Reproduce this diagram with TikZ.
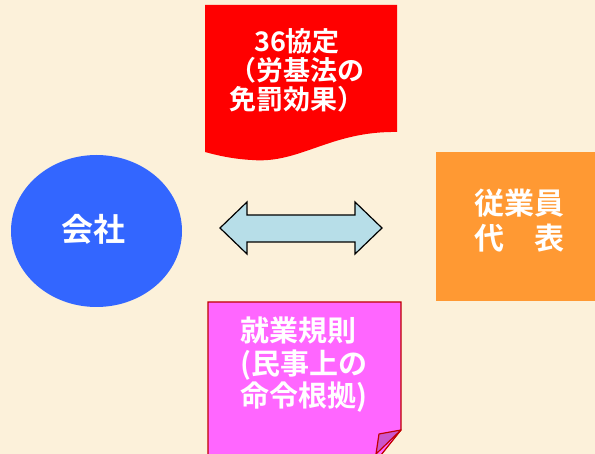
\documentclass[tikz,border=0pt]{standalone}
\usepackage{fontspec}
\newfontfamily\jp{Noto Sans CJK JP}[BoldFont={Noto Sans CJK JP Bold}]
\definecolor{bgc}{HTML}{FCF1DA}
\definecolor{redc}{HTML}{FF0000}
\definecolor{pinkc}{HTML}{FF66FF}
\definecolor{pinkb}{HTML}{C00000}
\definecolor{foldc}{HTML}{CC55CC}
\definecolor{bluec}{HTML}{3366FF}
\definecolor{orangec}{HTML}{FF9933}
\definecolor{arrowc}{HTML}{B7DEE8}
\tikzset{
  lbl/.style={text=white, font=\jp\bfseries, inner sep=0pt},
}
\begin{document}
\begin{tikzpicture}[x=1pt,y=-1pt]
\clip (0,0) rectangle (595,454);
\fill[bgc] (0,0) rectangle (595,454);
% red document
\fill[redc] (205,5) -- (397,5) -- (397,132)
  .. controls (330,131) and (300,164) .. (252,160)
  .. controls (232,159) and (216,155) .. (205,152) -- cycle;
\node[lbl, align=center, font=\jp\bfseries\fontsize{27}{29}\selectfont] (doc) at (297,70) {36協定\\（労基法の\\免罰効果）};
% blue ellipse
\fill[bluec] (96.5,231) ellipse [x radius=85.5, y radius=76];
\node[lbl, font=\jp\bfseries\fontsize{32}{36}\selectfont] (co) at (93,229) {会社};
% double arrow
\draw[fill=arrowc, line width=1.2pt, line join=miter] (220,228) -- (247,202) -- (247,215) -- (355,215) -- (355,202) -- (382,228) -- (355,254) -- (355,242) -- (247,242) -- (247,254) -- cycle;
% orange rect
\fill[orangec] (436,152) rectangle (600,301);
\node[lbl, align=center, font=\jp\bfseries\fontsize{30}{35}\selectfont] (emp) at (519,221) {従業員\\代　表};
% pink note
\draw[fill=pinkc, draw=pinkb, line width=1.2pt] (208,302) -- (401,302) -- (401,430) -- (377,460) -- (208,460) -- cycle;
\draw[fill=foldc, draw=pinkb, line width=1.2pt, line join=round] (401,430) -- (379,434) -- (376,454) -- cycle;
\node[lbl, align=left, font=\jp\bfseries\fontsize{29}{32.5}\selectfont] (rule) at (304,365) {就業規則\\(民事上の\\命令根拠)};
\end{tikzpicture}
\end{document}
